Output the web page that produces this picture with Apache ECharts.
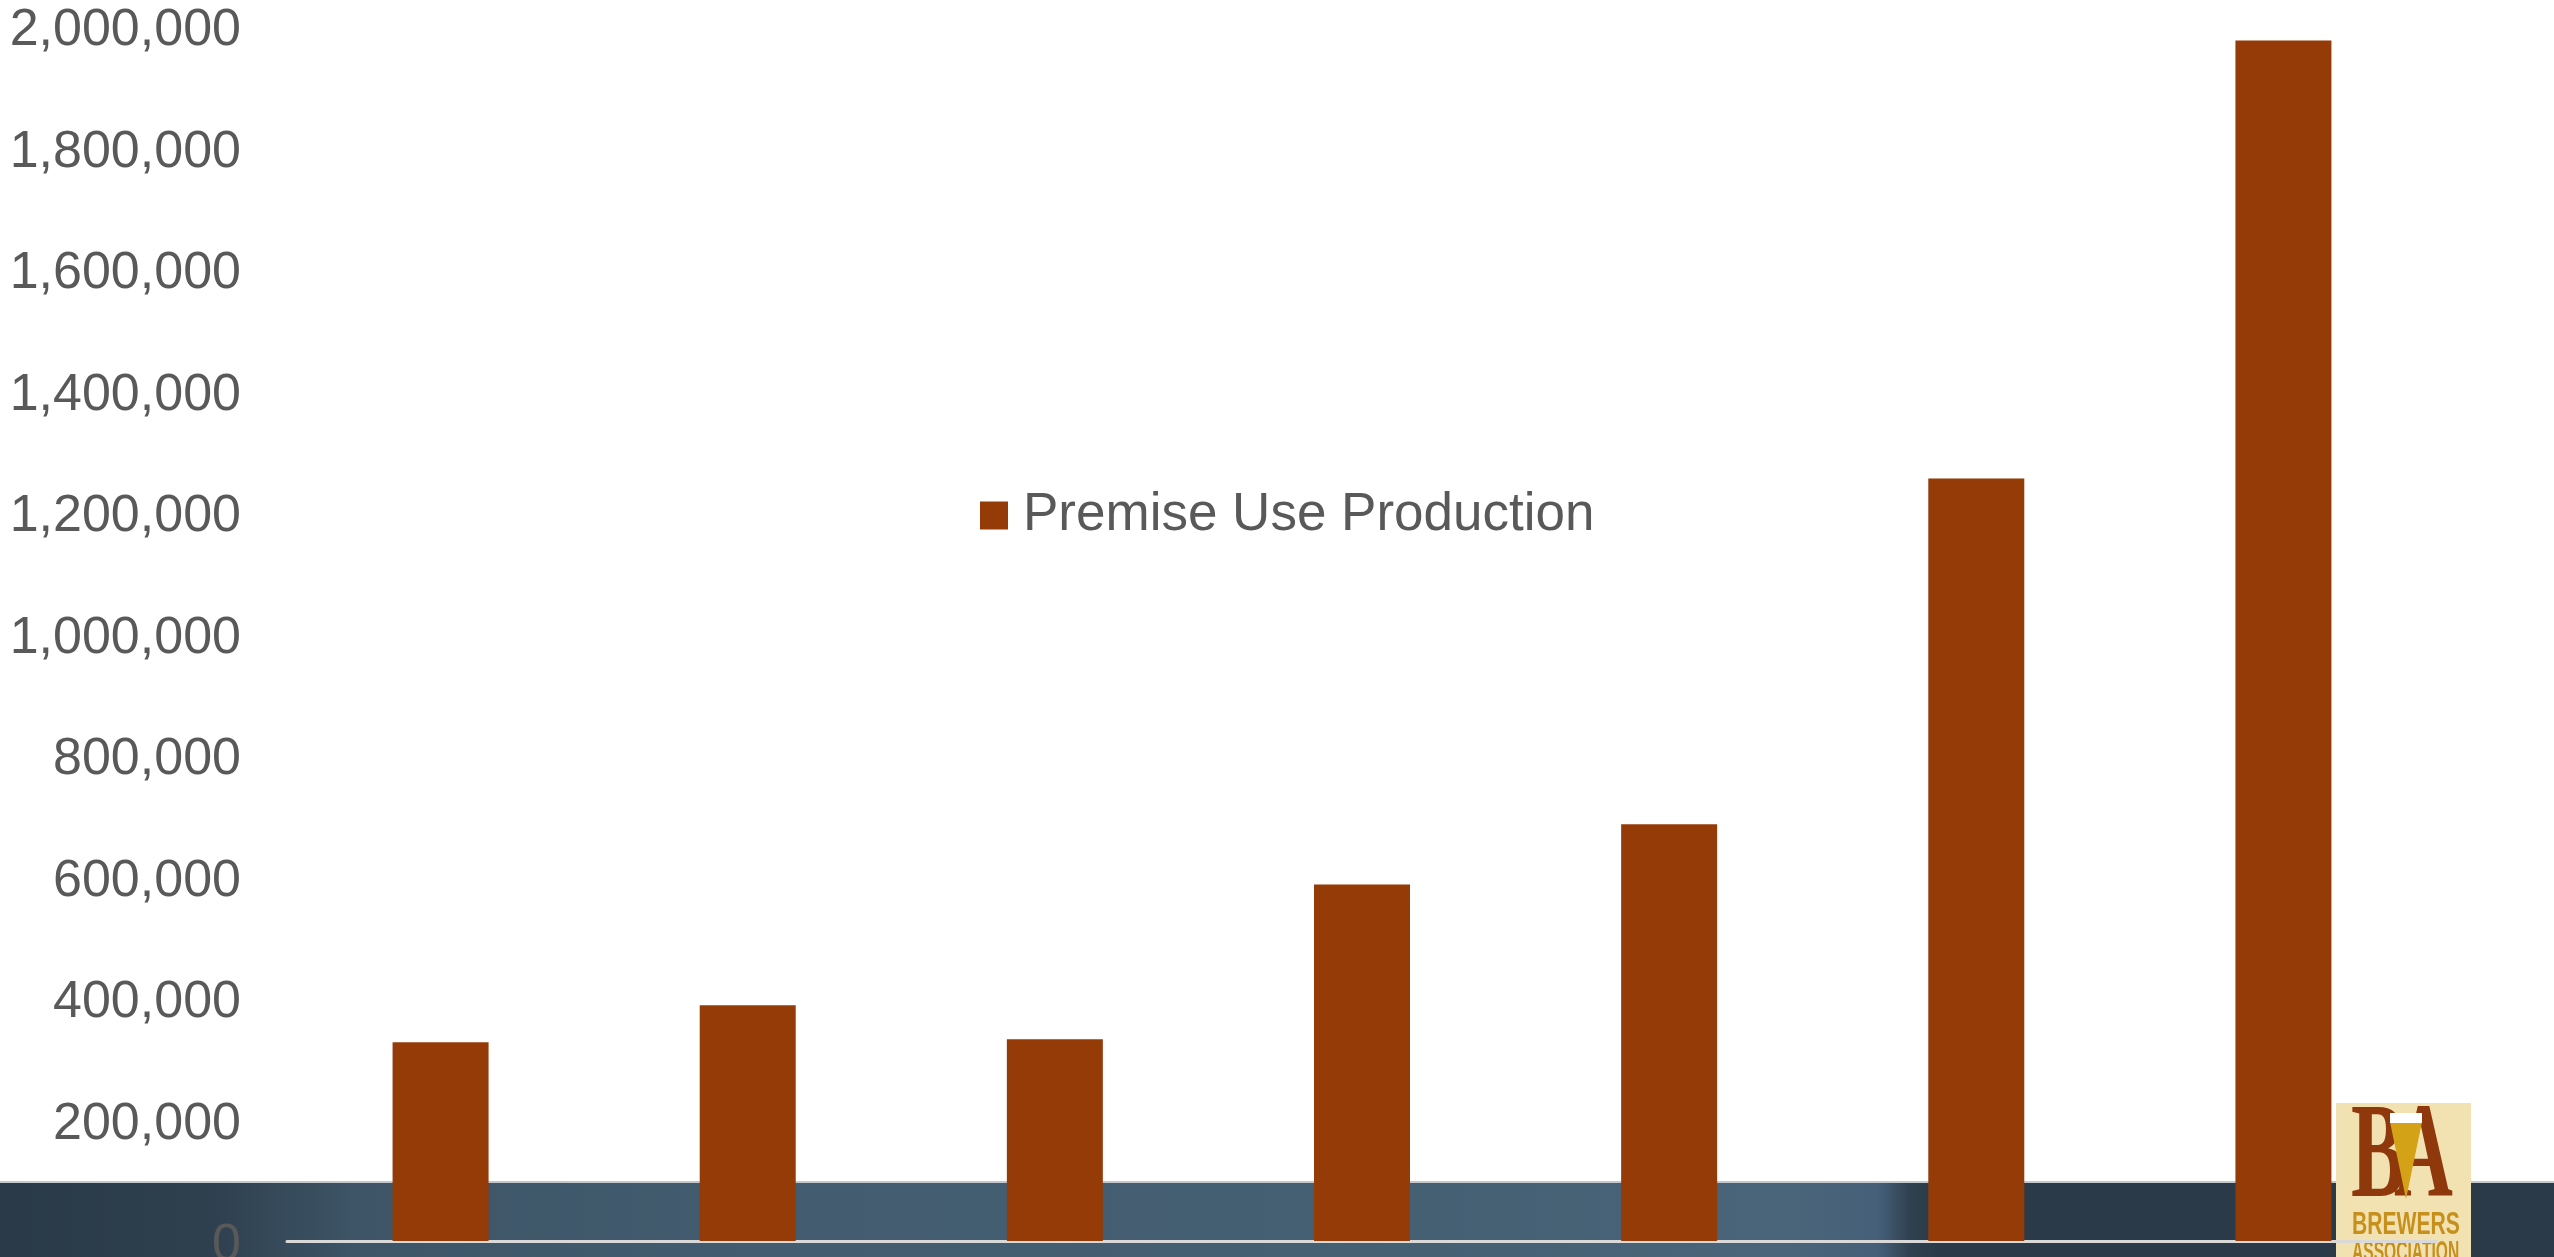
<!DOCTYPE html>
<html>
<head>
<meta charset="utf-8">
<title>Premise Use Production</title>
<script src="https://cdn.jsdelivr.net/npm/echarts@6/dist/echarts.min.js"></script>
<style>
  html, body { margin: 0; padding: 0; background: #ffffff; }
  #chart { width: 2554px; height: 1257px; }
</style>
</head>
<body>
<div id="chart"></div>
<script>
// Categories (not labelled on the axis) and barrels produced on premise
const years = ['2007', '2008', '2009', '2010', '2011', '2012', '2013'];
const premiseUse = [327000, 388000, 332000, 587000, 686000, 1255000, 1976000];
const seriesName = 'Premise Use Production';

// Value axis ticks
const yMin = 0;
const yMax = 2000000;
const yStep = 200000;

const textGray = '#595959';
const barColor = '#943B07';
const labelFont = '"Liberation Sans", Arial, sans-serif';
const serifFont = '"Liberation Serif", "DejaVu Serif", serif';

const chart = echarts.init(document.getElementById('chart'));

const fmt = v => v.toLocaleString('en-US');

chart.setOption({
  backgroundColor: '#ffffff',
  animation: false,
  grid: { left: 287, right: 117, top: 26, bottom: 16, outerBoundsMode: 'none', containLabel: false },
  legend: {
    data: [seriesName],
    left: 975,
    top: 484,
    icon: 'rect',
    itemWidth: 28,
    itemHeight: 28,
    textStyle: {
      color: textGray,
      fontSize: 53,
      fontFamily: labelFont,
      padding: [0, 0, 0, 10]
    }
  },
  xAxis: {
    type: 'category',
    data: years,
    axisLine: { show: true, lineStyle: { color: '#d9d9d9', width: 3 } },
    axisTick: { show: false },
    axisLabel: { show: false },
    splitLine: { show: false }
  },
  yAxis: {
    type: 'value',
    min: yMin,
    max: yMax,
    interval: yStep,
    axisLine: { show: false },
    axisTick: { show: false },
    splitLine: { show: false },
    axisLabel: {
      color: textGray,
      fontSize: 52,
      fontFamily: labelFont,
      margin: 46,
      verticalAlign: 'top',
      lineHeight: 10,
      formatter: fmt
    }
  },
  series: [{
    name: seriesName,
    type: 'bar',
    data: premiseUse,
    barWidth: 96,
    itemStyle: { color: barColor }
  }],
  graphic: [
    // slide footer band
    {
      type: 'rect',
      z: -5,
      shape: { x: 0, y: 1182, width: 2554, height: 75 },
      style: {
        fill: {
          type: 'linear', x: 0, y: 0, x2: 1, y2: 0,
          colorStops: [
            { offset: 0.00, color: '#2a3a48' },
            { offset: 0.08, color: '#2e3f4e' },
            { offset: 0.14, color: '#3d5567' },
            { offset: 0.30, color: '#435c6f' },
            { offset: 0.55, color: '#455f73' },
            { offset: 0.70, color: '#4a6479' },
            { offset: 0.735, color: '#46607a' },
            { offset: 0.748, color: '#2f404f' },
            { offset: 0.76, color: '#2a3a48' },
            { offset: 1.00, color: '#2a3a48' }
          ]
        }
      }
    },
    {
      type: 'rect',
      z: -4,
      shape: { x: 0, y: 1181, width: 2554, height: 2 },
      style: { fill: '#c4c8cc' }
    },
    // Brewers Association badge
    {
      type: 'rect',
      z: -3,
      shape: { x: 2336, y: 1103, width: 135, height: 154 },
      style: { fill: '#f2e2b2' }
    },
    {
      type: 'text',
      z: -2,
      x: 2351, y: 1161,
      scaleX: 0.6,
      style: {
        text: 'B',
        fill: '#8f380c',
        font: 'bold 136px ' + serifFont,
        verticalAlign: 'middle',
        align: 'left'
      }
    },
    {
      type: 'text',
      z: -2,
      x: 2394, y: 1161,
      scaleX: 0.6,
      style: {
        text: 'A',
        fill: '#8f380c',
        font: 'bold 136px ' + serifFont,
        verticalAlign: 'middle',
        align: 'left'
      }
    },
    {
      type: 'polygon',
      z: -1,
      shape: { points: [[2390, 1122], [2422, 1122], [2406, 1199]] },
      style: { fill: '#d4a217' }
    },
    {
      type: 'rect',
      z: -1,
      shape: { x: 2390, y: 1113, width: 32, height: 10 },
      style: { fill: '#ffffff' }
    },
    {
      type: 'text',
      z: -2,
      x: 2352, y: 1225,
      scaleX: 0.66,
      style: {
        text: 'BREWERS',
        fill: '#c6901c',
        font: 'bold 32px "Liberation Sans", Arial, sans-serif',
        verticalAlign: 'middle',
        align: 'left'
      }
    },
    {
      type: 'text',
      z: -2,
      x: 2352, y: 1253,
      scaleX: 0.52,
      style: {
        text: 'ASSOCIATION',
        fill: '#c6901c',
        font: 'bold 30px "Liberation Sans", Arial, sans-serif',
        verticalAlign: 'middle',
        align: 'left'
      }
    }
  ]
});
</script>
</body>
</html>
